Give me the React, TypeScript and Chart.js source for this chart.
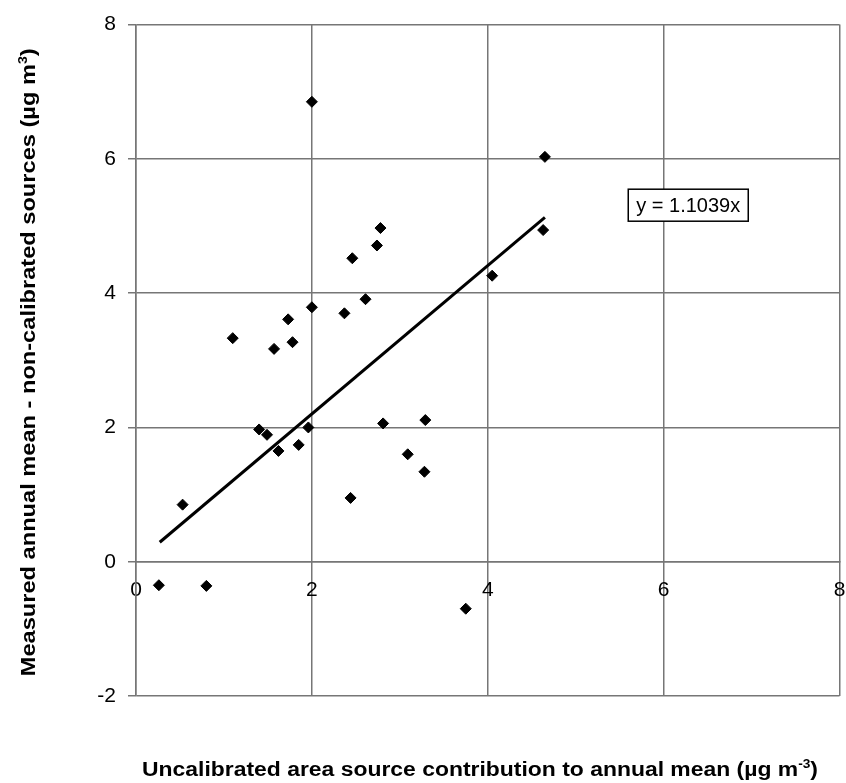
import React, { useEffect, useRef } from "react";
import { Chart, registerables } from "chart.js";

Chart.register(...registerables);

// Scatter observations (x = uncalibrated contribution, y = measured - non-calibrated)
const pointX = [0.26, 0.53, 0.8, 1.1, 1.4, 1.49, 1.57, 1.62, 1.73, 1.78, 1.85, 1.96, 2.0, 2.0, 2.37, 2.44, 2.46, 2.61, 2.74, 2.78, 2.81, 3.09, 3.28, 3.29, 3.75, 4.05, 4.63, 4.65];
const pointY = [-0.35, 0.85, -0.36, 3.33, 1.97, 1.89, 3.17, 1.65, 3.61, 3.27, 1.74, 2.0, 3.79, 6.85, 3.7, 0.95, 4.52, 3.91, 4.71, 4.97, 2.06, 1.6, 1.34, 2.11, -0.7, 4.26, 4.94, 6.03];

// Trend line end points
const trendX = [0.27, 4.65];
const trendY = [0.29, 5.13];

const xTicks = [0, 2, 4, 6, 8];
const yTicks = [-2, 0, 2, 4, 6, 8];

const equationText = "y = 1.1039x";
const equationAt = [6.28, 5.31];

const xTitleParts = [
  { text: "Uncalibrated area source contribution to annual mean (µg m", sup: false },
  { text: "-3", sup: true },
  { text: ")", sup: false },
];
const yTitleParts = [
  { text: "Measured annual mean - non-calibrated sources (µg m", sup: false },
  { text: "3", sup: true },
  { text: ")", sup: false },
];

const FONT = "'Liberation Sans', Arial, Helvetica, sans-serif";
const GRID = "#767676";

function drawRich(
  ctx: CanvasRenderingContext2D,
  parts: { text: string; sup: boolean }[],
  size: number,
  targetWidth: number
) {
  const supSize = Math.round(size * 0.62);
  const widths = parts.map((p) => {
    ctx.font = `bold ${p.sup ? supSize : size}px ${FONT}`;
    return ctx.measureText(p.text).width;
  });
  const total = widths.reduce((a, b) => a + b, 0);
  const sx = targetWidth / total;
  ctx.save();
  ctx.scale(sx, 1);
  let x = -total / 2;
  ctx.textBaseline = "alphabetic";
  ctx.textAlign = "left";
  ctx.fillStyle = "#000";
  parts.forEach((p, i) => {
    ctx.font = `bold ${p.sup ? supSize : size}px ${FONT}`;
    ctx.fillText(p.text, x, p.sup ? -size * 0.42 : 0);
    x += widths[i];
  });
  ctx.restore();
}

const decorPlugin = {
  id: "decor",
  afterDatasetsDraw(chart: any) {
    const ctx: CanvasRenderingContext2D = chart.ctx;
    const xs = chart.scales.x;
    const ys = chart.scales.y;
    const cx = xs.getPixelForValue(equationAt[0]);
    const cy = ys.getPixelForValue(equationAt[1]);
    const w = 120;
    const h = 32;
    ctx.save();
    ctx.fillStyle = "#fff";
    ctx.fillRect(cx - w / 2, cy - h / 2, w, h);
    ctx.strokeStyle = "#000";
    ctx.lineWidth = 1.5;
    ctx.strokeRect(cx - w / 2, cy - h / 2, w, h);
    ctx.fillStyle = "#000";
    ctx.font = `20px ${FONT}`;
    ctx.textAlign = "center";
    ctx.textBaseline = "middle";
    ctx.fillText(equationText, cx, cy + 1);
    ctx.restore();
  },
  afterDraw(chart: any) {
    const ctx: CanvasRenderingContext2D = chart.ctx;
    const area = chart.chartArea;
    ctx.save();
    ctx.translate(480, 776);
    drawRich(ctx, xTitleParts, 20, 676);
    ctx.restore();
    ctx.save();
    ctx.translate(35, (area.top + area.bottom) / 2 + 2);
    ctx.rotate(-Math.PI / 2);
    drawRich(ctx, yTitleParts, 20, 628);
    ctx.restore();
  },
};

export default function App() {
  const ref = useRef<HTMLCanvasElement | null>(null);
  useEffect(() => {
    document.body.style.margin = "0";
    const canvas = ref.current;
    if (!canvas) return;
    const chart = new Chart(canvas, {
      type: "scatter",
      data: {
        datasets: [
          {
            label: "Observations",
            data: pointX.map((x, i) => ({ x, y: pointY[i] })),
            pointStyle: "rectRot",
            pointRadius: 5.5,
            pointBackgroundColor: "#000",
            pointBorderColor: "#000",
            pointBorderWidth: 1,
            showLine: false,
          },
          {
            label: "Trend",
            data: trendX.map((x, i) => ({ x, y: trendY[i] })),
            showLine: true,
            borderColor: "#000",
            borderWidth: 3,
            pointRadius: 0,
            fill: false,
          },
        ],
      },
      options: {
        animation: false,
        responsive: false,
        maintainAspectRatio: false,
        events: [],
        layout: { padding: { left: 0, right: 5, top: 24, bottom: 87 } },
        plugins: {
          legend: { display: false },
          tooltip: { enabled: false },
          title: { display: false },
        },
        scales: {
          x: {
            type: "linear",
            position: { y: 0 } as any,
            min: 0,
            max: 8,
            afterBuildTicks: (s: any) => {
              s.ticks = xTicks.map((v) => ({ value: v }));
            },
            afterFit: (s: any) => {
              s.paddingLeft = 0;
              s.paddingRight = 0;
            },
            ticks: {
              color: "#000",
              font: { size: 21, family: FONT },
              padding: 16,
              maxRotation: 0,
            },
            grid: { color: GRID, lineWidth: 1.5, drawTicks: false },
            border: { display: true, color: GRID, width: 1.5 },
          },
          y: {
            type: "linear",
            position: "left",
            min: -2,
            max: 8,
            afterBuildTicks: (s: any) => {
              s.ticks = yTicks.map((v) => ({ value: v }));
            },
            afterFit: (s: any) => {
              s.width = 136;
            },
            ticks: {
              color: "#000",
              font: { size: 21, family: FONT },
              padding: 12,
            },
            grid: { color: GRID, lineWidth: 1.5, drawTicks: true, tickLength: 8 },
            border: { display: true, color: GRID, width: 1.5 },
          },
        },
      },
      plugins: [decorPlugin],
    });
    return () => chart.destroy();
  }, []);
  return (
    <div style={{ width: 846, height: 783, background: "#fff" }}>
      <canvas ref={ref} width={846} height={783} />
    </div>
  );
}
